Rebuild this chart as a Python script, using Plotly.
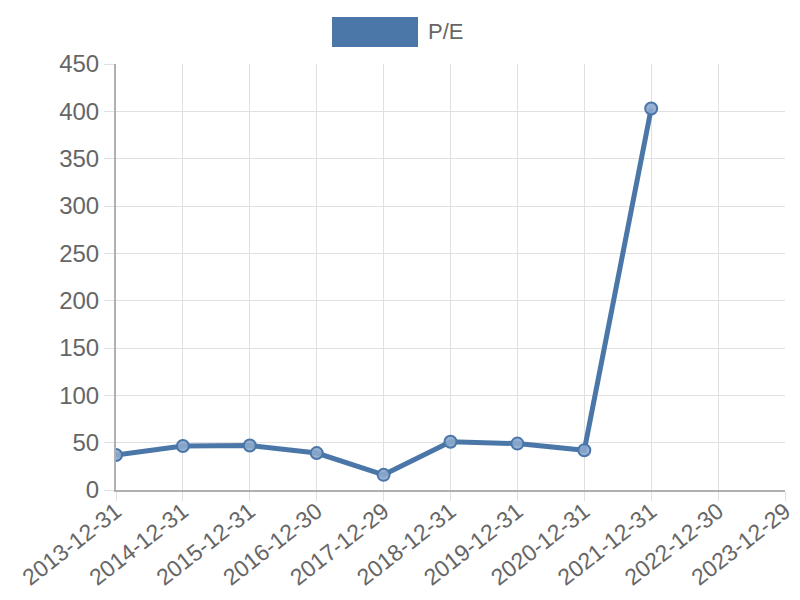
import plotly.graph_objects as go

dates = ["2013-12-31", "2014-12-31", "2015-12-31", "2016-12-30", "2017-12-29",
         "2018-12-31", "2019-12-31", "2020-12-31", "2021-12-31", "2022-12-30",
         "2023-12-29"]
pe = [37, 46.5, 47, 39, 16, 51, 49, 42, 403, None, None]

LINE = "#4a76a8"
GRID = "#e0e0e0"
TEXT = "#666666"
FONT = "Liberation Sans, Arial, sans-serif"

# page body has an 8px margin, so the figure is sized/offset to compensate
PW, PH = 669, 426      # plot area size in px
PL, PT = 116, 64       # plot area top-left on the page

fig = go.Figure(go.Scatter(
    x=dates, y=pe, mode="lines+markers", name="P/E",
    line=dict(color=LINE, width=5),
    marker=dict(size=12, color="rgba(140,170,205,0.9)", line=dict(color=LINE, width=2)),
    showlegend=False,
))

# legend drawn as in the original (wide colour box + label)
fig.add_shape(type="rect", xref="paper", yref="paper",
              x0=(332 - PL) / PW, x1=(418 - PL) / PW,
              y0=(PT + PH - 47) / PH, y1=(PT + PH - 17) / PH,
              fillcolor=LINE, line=dict(width=0))
fig.add_annotation(text="P/E", xref="paper", yref="paper",
                   x=(426 - PL) / PW, y=(PT + PH - 31) / PH,
                   xanchor="left", yanchor="middle", showarrow=False,
                   font=dict(size=22, color=TEXT, family=FONT))

fig.update_layout(
    width=792, height=584,
    margin=dict(l=PL - 8, r=15, t=PT - 8, b=102, autoexpand=False),
    paper_bgcolor="white", plot_bgcolor="white",
    font=dict(family=FONT, color=TEXT, size=22),
    xaxis=dict(
        type="category", range=[0, 10], tickangle=-38, automargin=False,
        showgrid=True, gridcolor=GRID, gridwidth=1,
        ticks="outside", ticklen=9, tickcolor=GRID, ticklabelstandoff=-12,
        showline=True, linecolor="#b0b0b0", linewidth=2,
        tickfont=dict(size=23, color=TEXT), zeroline=False,
    ),
    yaxis=dict(
        range=[0, 450], dtick=50, automargin=False,
        showgrid=True, gridcolor=GRID, gridwidth=1,
        ticks="outside", ticklen=10, tickcolor=GRID,
        showline=True, linecolor="#b0b0b0", linewidth=2,
        tickfont=dict(size=24, color=TEXT), zeroline=False,
    ),
)

fig.write_html("out.html")
